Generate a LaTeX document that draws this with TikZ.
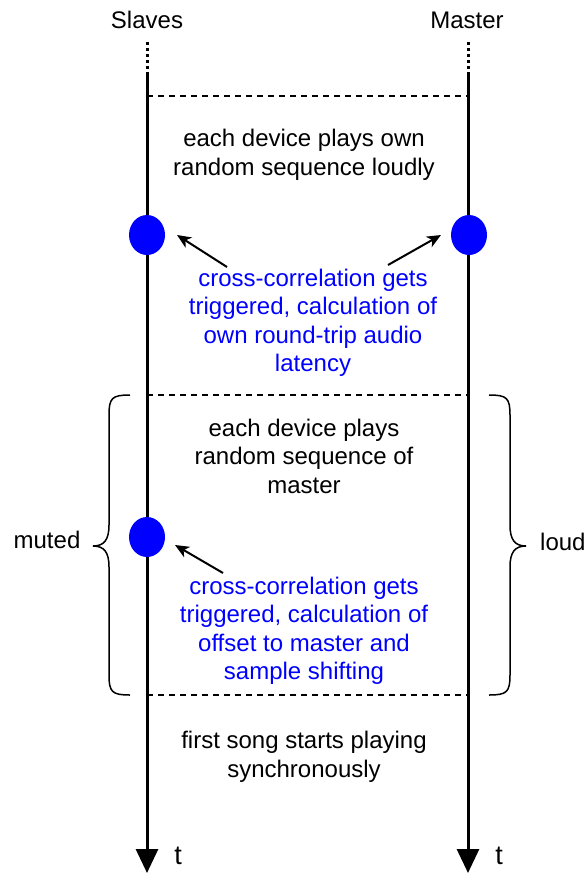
\documentclass[tikz,border=0pt]{standalone}
\usepackage{fontspec}
\setmainfont{Liberation Sans}
\usetikzlibrary{arrows.meta,shapes.geometric}
\begin{document}
\begin{tikzpicture}[x=1pt,y=-1pt,
  txt/.style={font=\fontsize{24}{28.5}\selectfont, align=center, inner sep=0pt},
  bluetxt/.style={txt, text=blue},
  timeline/.style={line width=3pt, -{Triangle[width=22pt,length=24pt]}},
  dotpart/.style={line width=3pt, dash pattern=on 3pt off 3pt},
  sep/.style={line width=1.2pt, dash pattern=on 6pt off 5pt},
  event/.style={ellipse, fill=blue, minimum width=36pt, minimum height=40pt, inner sep=0pt},
  pointer/.style={line width=2pt, -{Stealth[length=14pt,width=12pt,inset=4pt]}},
  brace/.style={line width=1.5pt}]
\useasboundingbox (0,0) rectangle (587,876);

% column titles
\node[txt] (slaves) at (147,20) {Slaves};
\node[txt] (master) at (467,20) {Master};

% time axes
\coordinate (sTop) at (147,42);
\coordinate (sMid) at (147,75);
\coordinate (sEnd) at (147,873);
\coordinate (mTop) at (468,42);
\coordinate (mMid) at (468,75);
\coordinate (mEnd) at (468,873);
\draw[dotpart] (sTop) -- (sMid);
\draw[dotpart] (mTop) -- (mMid);
\draw[timeline] (sMid) -- (sEnd);
\draw[timeline] (mMid) -- (mEnd);
\node[txt, font=\fontsize{27}{30}\selectfont] (ts) at (178,856) {t};
\node[txt, font=\fontsize{27}{30}\selectfont] (tm) at (499,856) {t};

% phase separators
\coordinate (d1a) at (147,96);  \coordinate (d1b) at (468,96);
\coordinate (d2a) at (147,395); \coordinate (d2b) at (468,395);
\coordinate (d3a) at (147,695); \coordinate (d3b) at (468,695);
\draw[sep] (d1a) -- (d1b);
\draw[sep] (d2a) -- (d2b);
\draw[sep] (d3a) -- (d3b);

% phase 1
\node[txt] (p1) at (304,155) {each device plays own\\random sequence loudly};
\node[event] (e1) at (147,235) {};
\node[event] (e2) at (469,235) {};
\node[bluetxt] (n1) at (313,323) {cross-correlation gets\\triggered, calculation of\\own round-trip audio\\latency};
\coordinate (a1s) at (227,267); \coordinate (a1e) at (177,235);
\coordinate (a2s) at (388,265); \coordinate (a2e) at (441,235);
\draw[pointer] (a1s) -- (a1e);
\draw[pointer] (a2s) -- (a2e);

% phase 2
\node[txt] (p2) at (304,456) {each device plays\\random sequence of\\master};
\node[event] (e3) at (147,537) {};
\node[bluetxt] (n2) at (304,631) {cross-correlation gets\\triggered, calculation of\\offset to master and\\sample shifting};
\coordinate (a3s) at (223,573); \coordinate (a3e) at (175,545);
\draw[pointer] (a3s) -- (a3e);

% phase 3
\node[txt] (p3) at (304,757) {first song starts playing\\synchronously};

% braces
\draw[brace] (130,395) .. controls (112,395) and (109,398) .. (109,415)
  -- (109,525) .. controls (109,540) and (104,546) .. (93,546)
  .. controls (104,546) and (109,552) .. (109,567)
  -- (109,675) .. controls (109,692) and (112,695) .. (130,695);
\draw[brace] (489,395) .. controls (507,395) and (510,398) .. (510,415)
  -- (510,525) .. controls (510,540) and (515,546) .. (526,546)
  .. controls (515,546) and (510,552) .. (510,567)
  -- (510,675) .. controls (510,692) and (507,695) .. (489,695);
\node[txt] (muted) at (47,540) {muted};
\node[txt, anchor=west] (loud) at (540,542) {loud};
\end{tikzpicture}
\end{document}
